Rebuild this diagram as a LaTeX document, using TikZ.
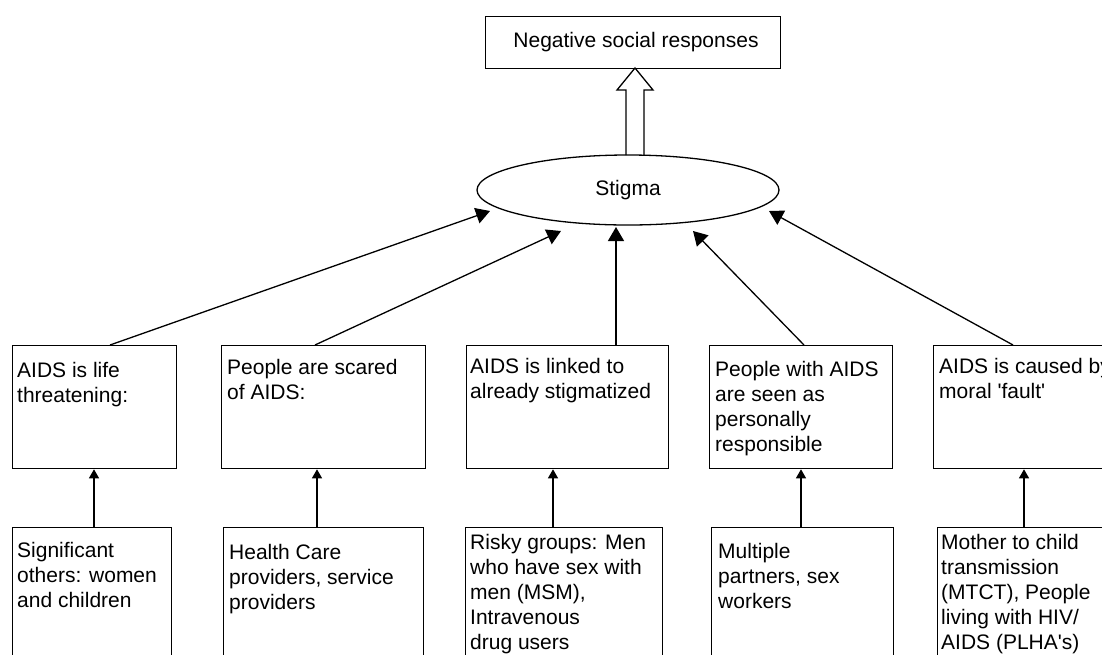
\documentclass[tikz,border=0pt]{standalone}
\usepackage{fontspec}
\newfontfamily\arial{Liberation Sans}
\usetikzlibrary{arrows.meta,shapes.geometric,calc}
\newcommand{\ptext}[1]{\parbox[t]{300pt}{\raggedright #1}}
\begin{document}
\begin{tikzpicture}[x=1pt,y=-1pt,
  every node/.style={font=\arial\fontsize{21}{25}\selectfont},
  box/.style={draw, line width=1.3pt, rectangle, inner sep=0pt, anchor=north west},
  lbl/.style={anchor=base west, inner sep=0pt},
  bigarr/.style={line width=1.3pt, -{Triangle[length=14pt,width=16pt]}},
  smallarr/.style={line width=1.3pt, -{Triangle[length=9pt,width=10pt]}}]
\useasboundingbox (0,0) rectangle (1102,654);
\clip (0,0) rectangle (1102,654);
\fill[white] (0,0) rectangle (1102,654);

% top box
\node[box, minimum width=295pt, minimum height=52pt] (top) at (485,16) {};
\node[anchor=base, inner sep=0pt] (toptxt) at (636,47) {Negative social responses};

% stigma ellipse
\node[draw, ellipse, line width=1.3pt, minimum width=302pt, minimum height=70pt, inner sep=0pt] (stigma) at (628,190) {Stigma};

% hollow arrow
\draw[line width=1.3pt, line join=miter] (626,155) -- (626,90) -- (617,90) -- (635,68) -- (653,90) -- (644,90) -- (644,155);

% upper row boxes
\node[box, minimum width=164pt, minimum height=123pt] (t1) at (12,345) {};
\node[box, minimum width=204pt, minimum height=123pt] (t2) at (221,345) {};
\node[box, minimum width=202pt, minimum height=123pt] (t3) at (466,345) {};
\node[box, minimum width=183pt, minimum height=123pt] (t4) at (709,345) {};
\node[box, minimum width=190pt, minimum height=123pt] (t5) at (933,345) {};

\node[lbl] (t1txt) at (17,377) {\ptext{AIDS is life\\threatening:}};
\node[lbl] (t2txt) at (227,374) {\ptext{People are scared\\of AIDS:}};
\node[lbl] (t3txt) at (470,373) {\ptext{AIDS is linked to\\already stigmatized}};
\node[lbl] (t4txt) at (715,376) {\ptext{People with AIDS\\are seen as\\personally\\responsible}};
\node[lbl] (t5txt) at (939,373) {\ptext{AIDS is caused by\\moral 'fault'}};

% lower row boxes
\node[box, minimum width=159pt, minimum height=153pt] (b1) at (12,527) {};
\node[box, minimum width=200pt, minimum height=153pt] (b2) at (223,527) {};
\node[box, minimum width=197pt, minimum height=153pt] (b3) at (465,527) {};
\node[box, minimum width=182pt, minimum height=153pt] (b4) at (711,527) {};
\node[box, minimum width=190pt, minimum height=153pt] (b5) at (937,527) {};

\node[lbl] (b1txt) at (17,557) {\ptext{Significant\\others: women\\and children}};
\node[lbl] (b2txt) at (229,559) {\ptext{Health Care\\providers, service\\providers}};
\node[lbl] (b3txt) at (470,549) {\ptext{Risky groups: Men\\who have sex with\\men (MSM),\\Intravenous\\drug users}};
\node[lbl] (b4txt) at (718,558) {\ptext{Multiple\\partners, sex\\workers}};
\node[lbl] (b5txt) at (941,549) {\ptext{Mother to child\\transmission\\(MTCT), People\\living with HIV/\\AIDS (PLHA's)}};

% arrows to stigma
\coordinate (s1) at (490,211);
\coordinate (s2) at (561,231);
\coordinate (s3) at (616,227);
\coordinate (s4) at (693,231);
\coordinate (s5) at (769,211);
\draw[bigarr] ($(t1.north west)+(98,0)$) -- (s1);
\draw[bigarr] ($(t2.north west)+(94,0)$) -- (s2);
\draw[bigarr] ($(t3.north west)+(150,0)$) -- (s3);
\draw[bigarr] ($(t4.north west)+(95,0)$) -- (s4);
\draw[bigarr] ($(t5.north west)+(80,0)$) -- (s5);

% arrows between rows
\coordinate (u1) at ($(b1.north west)+(82,0)$);
\coordinate (u2) at ($(b2.north west)+(94,0)$);
\coordinate (u3) at ($(b3.north west)+(88,0)$);
\coordinate (u4) at ($(b4.north west)+(90,0)$);
\coordinate (u5) at ($(b5.north west)+(87,0)$);
\draw[smallarr] (u1) -- (u1 |- t1.south);
\draw[smallarr] (u2) -- (u2 |- t2.south);
\draw[smallarr] (u3) -- (u3 |- t3.south);
\draw[smallarr] (u4) -- (u4 |- t4.south);
\draw[smallarr] (u5) -- (u5 |- t5.south);
\end{tikzpicture}
\end{document}
